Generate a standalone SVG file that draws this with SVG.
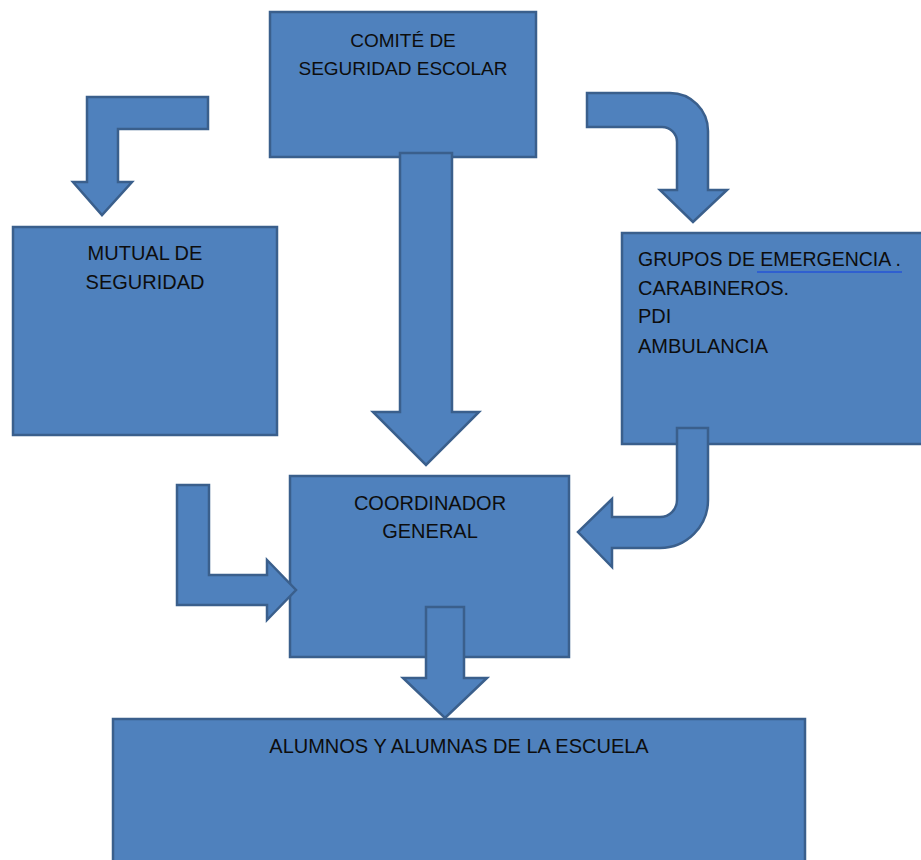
<svg xmlns="http://www.w3.org/2000/svg" width="921" height="860" viewBox="0 0 921 860">
<style>
.box{fill:#4F81BD;stroke:#3A5F8C;stroke-width:2.5}
.arr{fill:#4F81BD;stroke:#3A5F8C;stroke-width:2.5;stroke-linejoin:miter}
.t{font-family:"Liberation Sans",Arial,sans-serif;font-size:20px;fill:#0d0d0d}
.c{text-anchor:middle}
</style>
<rect width="921" height="860" fill="#ffffff"/>
<g id="comite">
<rect class="box" x="270" y="12" width="266" height="145"/>
<text class="t c" x="403" y="47" style="font-size:19px">COMITÉ DE</text>
<text class="t c" x="403" y="75" style="font-size:19px">SEGURIDAD ESCOLAR</text>
</g>
<g id="mutual">
<rect class="box" x="13" y="227" width="264" height="208"/>
<text class="t c" x="145" y="260">MUTUAL DE</text>
<text class="t c" x="145" y="289">SEGURIDAD</text>
</g>
<g id="grupos">
<rect class="box" x="622" y="233" width="310" height="211"/>
<text class="t" x="638" y="266" textLength="263" lengthAdjust="spacingAndGlyphs">GRUPOS DE EMERGENCIA .</text>
<line x1="757" y1="272" x2="902" y2="272" stroke="#2F5FD0" stroke-width="2"/>
<text class="t" x="638" y="295">CARABINEROS.</text>
<text class="t" x="638" y="323">PDI</text>
<text class="t" x="638" y="353">AMBULANCIA</text>
</g>
<g id="coordinador">
<rect class="box" x="290" y="476" width="279" height="181"/>
<text class="t c" x="430" y="510">COORDINADOR</text>
<text class="t c" x="430" y="538">GENERAL</text>
</g>
<g id="alumnos">
<rect class="box" x="113" y="719" width="692" height="160"/>
<text class="t c" x="459" y="753">ALUMNOS Y ALUMNAS DE LA ESCUELA</text>
</g>
<g id="connectors">
<path class="arr" d="M208,97 L87,97 L87,182 L73,182 L102,215 L132,182 L118,182 L118,129 L208,129 Z"/>
<path class="arr" d="M400,153 L452,153 L452,412 L479,412 L426,465 L373,412 L400,412 Z"/>
<path class="arr" d="M587,93 L670,93 A38,38 0 0 1 708,131 L708,190 L727,190 L693,222 L660,190 L677,190 L677,142 A15,15 0 0 0 662,127 L587,127 Z"/>
<path class="arr" d="M677,428 L708,428 L708,500 A48,48 0 0 1 660,548 L612,548 L612,567 L578,532 L612,499 L612,517 L660,517 A17,17 0 0 0 677,500 Z"/>
<path class="arr" d="M177,485 L209,485 L209,575 L267,575 L267,560 L296,590 L267,620 L267,605 L177,605 Z"/>
<path class="arr" d="M426,607 L464,607 L464,678 L487,678 L445,718 L403,678 L426,678 Z"/>
</g>
</svg>
